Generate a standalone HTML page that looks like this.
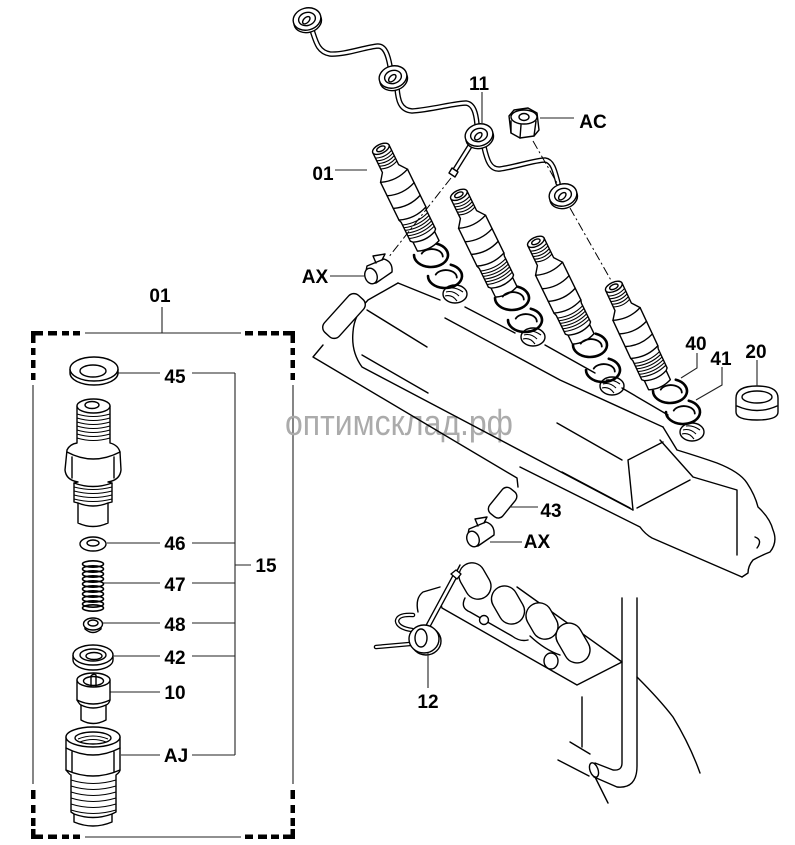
<!DOCTYPE html>
<html><head><meta charset="utf-8">
<style>
html,body{margin:0;padding:0;background:#fff;}
svg{display:block;}
.l{font-family:"Liberation Sans",Arial,sans-serif;font-weight:bold;font-size:19px;fill:#000;}
.s{fill:none;stroke:#000;stroke-width:1.4;stroke-linejoin:round;stroke-linecap:round;}
.w{fill:#fff;stroke:#000;stroke-width:1.4;stroke-linejoin:round;}
.t{fill:none;stroke:#222;stroke-width:1.1;}
.th{fill:none;stroke:#000;stroke-width:1.1;}
.po{fill:none;stroke:#000;stroke-width:5.5;stroke-linecap:round;stroke-linejoin:round;}
.pi{fill:none;stroke:#fff;stroke-width:2.8;stroke-linecap:round;stroke-linejoin:round;}
.ro{fill:none;stroke:#000;stroke-width:2.6;stroke-linecap:round;}
.ri{fill:none;stroke:#000;stroke-width:1.8;stroke-linecap:round;}
.d{fill:none;stroke:#000;stroke-width:1;stroke-dasharray:9 3 2 3;}
</style></head><body>
<svg width="795" height="845" viewBox="0 0 795 845" xmlns="http://www.w3.org/2000/svg">
<defs>
<g id="inj">
 <path class="w" d="M-9,2 L-9,24 L-15,32 L-15,74 L-14,77 L-14,98 L-12,100 L-12,110 Q0,115 12,110 L12,100 L14,98 L14,77 L15,74 L15,32 L9,24 L9,2 Z"/>
 <ellipse class="w" cx="0" cy="2" rx="9" ry="4.5"/>
 <ellipse class="s" cx="0" cy="2" rx="4.5" ry="2.3"/>
 <path class="th" d="M-9,8 Q0,12 9,8 M-9,11 Q0,15 9,11 M-9,14 Q0,18 9,14 M-9,17 Q0,21 9,17 M-9,20 Q0,24 9,20"/>
 <path class="s" d="M-15,32 Q0,38 15,32 M-15,47 Q0,53 15,47 M-15,61 Q0,67 15,61 M-15,74 Q0,80 15,74"/>
 <path class="th" d="M-14,80 Q0,85 14,80 M-14,83 Q0,88 14,83 M-14,86 Q0,91 14,86 M-14,89 Q0,94 14,89 M-14,92 Q0,97 14,92 M-14,95 Q0,100 14,95"/>
 <path class="s" d="M-12,100 Q0,105 12,100"/>
</g>
<g id="eye">
 <ellipse class="w" cx="0" cy="2.5" rx="14" ry="11"/>
 <ellipse class="w" cx="0" cy="0" rx="14" ry="11"/>
 <ellipse class="s" cx="0" cy="0" rx="8.5" ry="6.5"/>
 <ellipse class="s" cx="-1" cy="1" rx="4.5" ry="2.6" transform="rotate(-30 -1 1)"/>
</g>
<g id="hole">
 <ellipse class="s" cx="0" cy="0" rx="12" ry="9"/>
 <path class="th" d="M-9,-2 Q-2,-4 4,2 M-10,2 Q-3,0 2,7 M-6,-6 Q1,-7 8,-2"/>
</g>
<g id="ring">
 <path class="ro" d="M-17,0 A17,12 0 1 0 5.8,-11.3"/>
 <path class="ri" d="M-9.3,-1.4 A11,7.5 0 0 1 11.8,1.6"/>
</g>
<g id="ax">
 <path class="w" d="M-10,-5 L7,-12 Q16,-9 15,1 L-1,12 Q-10,14 -12,5 Z"/>
 <ellipse class="w" cx="-6" cy="5" rx="6" ry="8" transform="rotate(-20 -6 5)"/>
 <path class="s" d="M-1,-8 L-4,-15 M5,-11 L8,-17 M-4,-15 L8,-17"/>
</g>
</defs>

<!-- LEFT PANEL dashed box -->
<g fill="#000">
 <rect x="31" y="331" width="12" height="4.5"/><rect x="31" y="331" width="4.5" height="12"/>
 <rect x="48" y="331" width="9" height="4.5"/><rect x="62" y="331" width="7" height="4.5"/><rect x="73" y="331" width="7" height="4.5"/>
 <rect x="245" y="331" width="8" height="4.5"/><rect x="258" y="331" width="9" height="4.5"/><rect x="271" y="331" width="8" height="4.5"/>
 <rect x="283" y="331" width="12" height="4.5"/><rect x="290.5" y="331" width="4.5" height="12"/>
 <rect x="31" y="348" width="4.5" height="7"/><rect x="31" y="360" width="4.5" height="8"/><rect x="31" y="373" width="4.5" height="7"/>
 <rect x="290.5" y="348" width="4.5" height="7"/><rect x="290.5" y="360" width="4.5" height="8"/><rect x="290.5" y="373" width="4.5" height="7"/>
 <rect x="31" y="790" width="4.5" height="9"/><rect x="31" y="805" width="4.5" height="8"/><rect x="31" y="818" width="4.5" height="8"/>
 <rect x="31" y="829" width="4.5" height="10"/><rect x="31" y="834.5" width="12" height="4.5"/>
 <rect x="290.5" y="790" width="4.5" height="9"/><rect x="290.5" y="805" width="4.5" height="8"/><rect x="290.5" y="818" width="4.5" height="8"/>
 <rect x="290.5" y="829" width="4.5" height="10"/><rect x="283" y="834.5" width="12" height="4.5"/>
 <rect x="48" y="834.5" width="9" height="4.5"/><rect x="62" y="834.5" width="7" height="4.5"/><rect x="73" y="834.5" width="7" height="4.5"/>
 <rect x="245" y="834.5" width="8" height="4.5"/><rect x="258" y="834.5" width="9" height="4.5"/><rect x="271" y="834.5" width="8" height="4.5"/>
</g>
<path class="t" d="M85,333 L241,333 M85,837 L241,837 M33,385 L33,784 M293,385 L293,784"/>
<path class="t" d="M162,307 L162,333"/>
<text class="l" x="160" y="302" text-anchor="middle">01</text>

<!-- left leaders -->
<path class="t" d="M118,373 L160,373 M192,373 L235,373 M235,373 L235,755
 M107,543 L160,543 M192,543 L235,543
 M103,583 L160,583 M192,583 L235,583
 M103,623 L160,623 M192,623 L235,623
 M114,656 L160,656 M192,656 L235,656
 M110,692 L160,692
 M121,755 L160,755 M192,755 L235,755
 M235,565 L251,565"/>
<text class="l" x="175" y="383" text-anchor="middle">45</text>
<text class="l" x="175" y="550" text-anchor="middle">46</text>
<text class="l" x="175" y="591" text-anchor="middle">47</text>
<text class="l" x="175" y="631" text-anchor="middle">48</text>
<text class="l" x="175" y="664" text-anchor="middle">42</text>
<text class="l" x="175" y="699" text-anchor="middle">10</text>
<text class="l" x="176" y="762" text-anchor="middle">AJ</text>
<text class="l" x="266" y="572" text-anchor="middle">15</text>

<!-- left parts -->
<path class="w" d="M70,369 L70,373 A24,12 0 0 0 118,373 L118,369"/>
<ellipse class="w" cx="94" cy="369" rx="24" ry="12"/>
<ellipse class="s" cx="93" cy="371" rx="13" ry="6"/>
<path class="w" d="M77,406 L77,443 Q70,444 67,450 L65,470 Q66,480 78,482 L74,483 L74,502 L78,503 L78,523 Q93,530 108,523 L108,503 L112,502 L112,483 L108,482 Q120,480 121,470 L120,452 Q118,445 110,443 L110,406 Z"/>
<ellipse class="w" cx="93.5" cy="406" rx="16.5" ry="7"/>
<ellipse class="s" cx="92" cy="405" rx="7" ry="3.5"/>
<path class="th" d="M77,414 Q93,419 110,414 M77,418 Q93,423 110,418 M77,422 Q93,427 110,422 M77,426 Q93,431 110,426 M77,430 Q93,435 110,430 M77,434 Q93,439 110,434 M77,438 Q93,443 110,438"/>
<path class="s" d="M67,452 Q93,466 120,452 M72,457 L72,478 M114,457 L114,478 M74,483 Q93,490 112,483"/>
<path class="th" d="M74,487 Q93,492 112,487 M74,491 Q93,496 112,491 M74,495 Q93,500 112,495 M74,499 Q93,504 112,499"/>
<path class="s" d="M78,503 Q93,509 108,503"/>
<ellipse class="w" cx="93" cy="544" rx="13" ry="7"/>
<ellipse class="s" cx="93" cy="543" rx="6" ry="3"/>
<g fill="none" stroke="#000" stroke-width="1.6">
 <ellipse cx="93" cy="564" rx="10.5" ry="3.2"/><ellipse cx="93" cy="569" rx="10.5" ry="3.2"/>
 <ellipse cx="93" cy="574" rx="10.5" ry="3.2"/><ellipse cx="93" cy="579" rx="10.5" ry="3.2"/>
 <ellipse cx="93" cy="584" rx="10.5" ry="3.2"/><ellipse cx="93" cy="589" rx="10.5" ry="3.2"/>
 <ellipse cx="93" cy="594" rx="10.5" ry="3.2"/><ellipse cx="93" cy="599" rx="10.5" ry="3.2"/>
 <ellipse cx="93" cy="604" rx="10.5" ry="3.2"/><ellipse cx="93" cy="608" rx="10.5" ry="3.2"/>
</g>
<path class="w" d="M85,626 L85,629 Q93,636 101,629 L101,626"/>
<ellipse class="w" cx="93" cy="624" rx="9.5" ry="6"/>
<ellipse class="s" cx="93" cy="623" rx="5" ry="3"/>
<path class="w" d="M73,655 L73,660 A20,10 0 0 0 113,660 L113,655"/>
<ellipse class="w" cx="93" cy="655" rx="20" ry="10"/>
<ellipse class="s" cx="93" cy="655" rx="13" ry="6"/>
<ellipse class="s" cx="94" cy="656" rx="8" ry="3.5"/>
<path class="w" d="M77,680 L77,700 Q80,705 81,705 L81,720 Q93,727 106,720 L106,705 Q109,704 110,700 L110,680 Z"/>
<ellipse class="w" cx="93.5" cy="680" rx="16.5" ry="7"/>
<ellipse class="s" cx="93.5" cy="681" rx="10" ry="4.5"/>
<path class="s" d="M91,676 L91,686 M96,675 L96,686 M91,676 Q93.5,673 96,675 M77,700 Q93,708 110,700 M81,705 Q93,711 106,705"/>
<path class="w" d="M66,737 L66,770 Q70,775 71,775 L71,812 L74,814 L74,822 Q93,830 112,822 L112,814 L116,812 L116,775 Q120,772 120,770 L120,737 Z"/>
<ellipse class="w" cx="93" cy="737" rx="27" ry="10"/>
<ellipse class="s" cx="93" cy="738" rx="18" ry="6"/>
<path class="th" d="M78,739 Q93,733 108,739 M80,742 Q93,737 106,742"/>
<path class="s" d="M66,748 Q93,762 120,748 M72,752 L72,772 M114,752 L114,772 M66,770 Q93,782 120,770"/>
<path class="th" d="M71,780 Q93,787 116,780 M71,786 Q93,793 116,786 M71,792 Q93,799 116,792 M71,798 Q93,805 116,798 M71,804 Q93,811 116,804 M71,810 Q93,817 116,810"/>
<path class="s" d="M74,814 Q93,821 112,814"/>

<!-- WATERMARK -->
<text x="285" y="435" font-family="'Liberation Sans',Arial,sans-serif" font-size="36" fill="#ababab" textLength="228" lengthAdjust="spacingAndGlyphs">оптимсклад.рф</text>

<!-- CYLINDER HEAD -->
<path class="s" d="M398,283 L368,300 Q354,315 353,332 Q351,352 362,367 L633,510"/>
<path class="s" d="M398,283 L440,300 M465,307 L515,333 M545,345 L595,373 M622,388 L668,415"/>
<path class="s" d="M445,318 L560,380 L663,427"/>
<path class="s" d="M367,310 L427,347 M362,355 L428,393 M557,423 L622,460 M562,472 L630,508"/>
<path class="s" d="M660,440 L693,477 L737,490 L737,555 M628,460 L663,442 M628,460 L633,510 M637,508 L690,480"/>
<path class="s" d="M663,427 L677,450 Q700,457 717,463 Q740,472 747,483 Q755,495 758,507 Q770,518 773,530 Q778,542 770,552 Q760,556 753,560 Q748,566 748,573 L742,577"/>
<path class="s" d="M520,467 L640,527 Q645,534 652,538 L742,577"/>
<path class="s" d="M755,537 Q763,540 757,548"/>
<path class="s" d="M323,345 L313,357 L517,478 L518,487"/>

<!-- holes -->
<use href="#hole" transform="translate(455,294)"/>
<use href="#hole" transform="translate(533,337)"/>
<use href="#hole" transform="translate(612,386)"/>
<use href="#hole" transform="translate(692,432)"/>

<!-- injectors -->
<use href="#inj" transform="translate(380,147) rotate(-26)"/>
<use href="#inj" transform="translate(458,193) rotate(-26)"/>
<use href="#inj" transform="translate(535,240) rotate(-26)"/>
<use href="#inj" transform="translate(613,285) rotate(-25)"/>

<!-- C rings -->
<use href="#ring" transform="translate(431,255)"/>
<use href="#ring" transform="translate(445,276)"/>
<use href="#ring" transform="translate(512,298)"/>
<use href="#ring" transform="translate(525,320)"/>
<use href="#ring" transform="translate(590,345)"/>
<use href="#ring" transform="translate(603,370)"/>
<use href="#ring" transform="translate(670,391)"/>
<use href="#ring" transform="translate(683,412)"/>

<!-- ring 20 -->
<path class="w" d="M736,398 Q736,386 757,386 Q778,386 778,398 L778,412 Q778,420 757,420 Q736,420 736,412 Z"/>
<ellipse class="s" cx="757" cy="397" rx="15" ry="6"/>
<path class="s" d="M737,406 Q757,415 777,406"/>

<!-- pipes -->
<path class="po" d="M312,30 C316,42 318,52 330,54 C345,55 365,47 378,46 C385,46 388,55 390,66"/>
<path class="pi" d="M312,30 C316,42 318,52 330,54 C345,55 365,47 378,46 C385,46 388,55 390,66"/>
<path class="po" d="M397,88 C398,100 400,110 412,111 C430,110 455,103 466,103 C474,104 476,114 477,124"/>
<path class="pi" d="M397,88 C398,100 400,110 412,111 C430,110 455,103 466,103 C474,104 476,114 477,124"/>
<path class="po" d="M470,146 L455,170"/>
<path class="pi" d="M470,146 L455,170"/>
<path class="w" d="M452,168 L458,172 L455,177 L449,173 Z"/>
<path class="po" d="M484,147 C487,160 490,170 500,169 C515,167 535,160 545,160 C553,161 555,172 558,183"/>
<path class="pi" d="M484,147 C487,160 490,170 500,169 C515,167 535,160 545,160 C553,161 555,172 558,183"/>
<use href="#eye" transform="translate(307,19) rotate(-15)"/>
<use href="#eye" transform="translate(393,77) rotate(-15)"/>
<use href="#eye" transform="translate(479,135) rotate(-15)"/>
<use href="#eye" transform="translate(563,195) rotate(-15)"/>

<!-- AC nut -->
<path class="w" d="M509,116 L514,110 L528,108 L537,113 L539,130 L534,136 L520,138 L511,133 Z"/>
<ellipse class="s" cx="524" cy="117" rx="13" ry="7"/>
<ellipse class="s" cx="524" cy="117" rx="5" ry="3.5"/>
<path class="s" d="M521,125 L520,138 M511,121 L511,133 M536,121 L534,136"/>

<!-- dashed lines -->
<path class="d" d="M533,141 L557,183 M570,208 L612,282 M451,178 L388,258"/>

<!-- AX clips -->
<use href="#ax" transform="translate(377,271)"/>
<use href="#ax" transform="translate(479,534)"/>

<!-- sleeves 43 -->
<rect class="w" x="334" y="291" width="20" height="50" rx="7" transform="rotate(42 344 316)"/>
<rect class="w" x="494" y="487" width="17" height="32" rx="6" transform="rotate(39 503 503)"/>

<!-- lower assembly -->
<path class="s" d="M442,608 L577,685 L622,662 M517,587 L622,662 M442,608 Q438,598 446,592 L460,565"/>
<path class="s" d="M465,598 Q460,608 470,612 L512,636 Q520,642 528,640 M530,636 Q545,650 560,655"/>
<g transform="rotate(-30 475 581)"><rect class="w" x="462" y="562" width="26" height="38" rx="13"/></g>
<g transform="rotate(-30 508 605)"><rect class="w" x="495" y="585" width="26" height="40" rx="13"/></g>
<g transform="rotate(-30 542 621)"><rect class="w" x="529" y="602" width="26" height="38" rx="13"/></g>
<g transform="rotate(-30 573 643)"><rect class="w" x="560" y="622" width="26" height="42" rx="13"/></g>
<circle class="w" cx="484" cy="620" r="4.5"/>
<ellipse class="w" cx="551" cy="661" rx="7" ry="8"/>
<path class="s" d="M582,697 L582,747"/>
<path class="s" d="M622,598 L622,763 Q622,771 613,770 L595,763 M637,598 L637,766 Q637,789 617,787 L594,777"/>
<ellipse class="w" cx="594" cy="770" rx="4" ry="7.5" transform="rotate(-20 594 770)"/>
<path class="s" d="M570,742 L590,754 M558,760 L589,776 M595,777 L608,803"/>
<path class="s" d="M637,677 Q660,700 673,717 Q690,745 700,773"/>

<!-- part 12 -->
<path class="s" d="M418,612 Q415,598 423,592 L440,587"/>
<path class="po" d="M428,626 L455,576"/>
<path class="pi" d="M428,626 L455,576"/>
<path class="w" d="M451,574 L456,570 L461,574 L457,579 Z"/>
<path fill="none" stroke="#000" stroke-width="4.5" stroke-linecap="round" d="M376,647 L410,644 M412,630 Q398,628 397,621 Q398,614 413,615"/>
<path fill="none" stroke="#fff" stroke-width="2" stroke-linecap="round" d="M376,647 L410,644 M412,630 Q398,628 397,621 Q398,614 413,615"/>
<ellipse class="w" cx="426" cy="641" rx="15" ry="14"/>
<ellipse class="w" cx="424" cy="639" rx="15" ry="14"/>
<ellipse class="s" cx="421" cy="638" rx="6" ry="9"/>

<!-- right labels and leaders -->
<path class="t" d="M482,92 L482,124 M540,118 L574,118 M335,170 L367,170 M330,276 L364,276
 M697,353 L697,368 L681,378 M722,367 L722,385 L696,400 M757,360 L757,386
 M510,507 L538,507 M490,542 L522,542 M428,653 L428,688"/>
<text class="l" x="479" y="90" text-anchor="middle">11</text>
<text class="l" x="593" y="128" text-anchor="middle">AC</text>
<text class="l" x="323" y="180" text-anchor="middle">01</text>
<text class="l" x="315" y="283" text-anchor="middle">AX</text>
<text class="l" x="696" y="350" text-anchor="middle">40</text>
<text class="l" x="721" y="365" text-anchor="middle">41</text>
<text class="l" x="756" y="358" text-anchor="middle">20</text>
<text class="l" x="551" y="517" text-anchor="middle">43</text>
<text class="l" x="537" y="548" text-anchor="middle">AX</text>
<text class="l" x="428" y="708" text-anchor="middle">12</text>
</svg>
</body></html>
